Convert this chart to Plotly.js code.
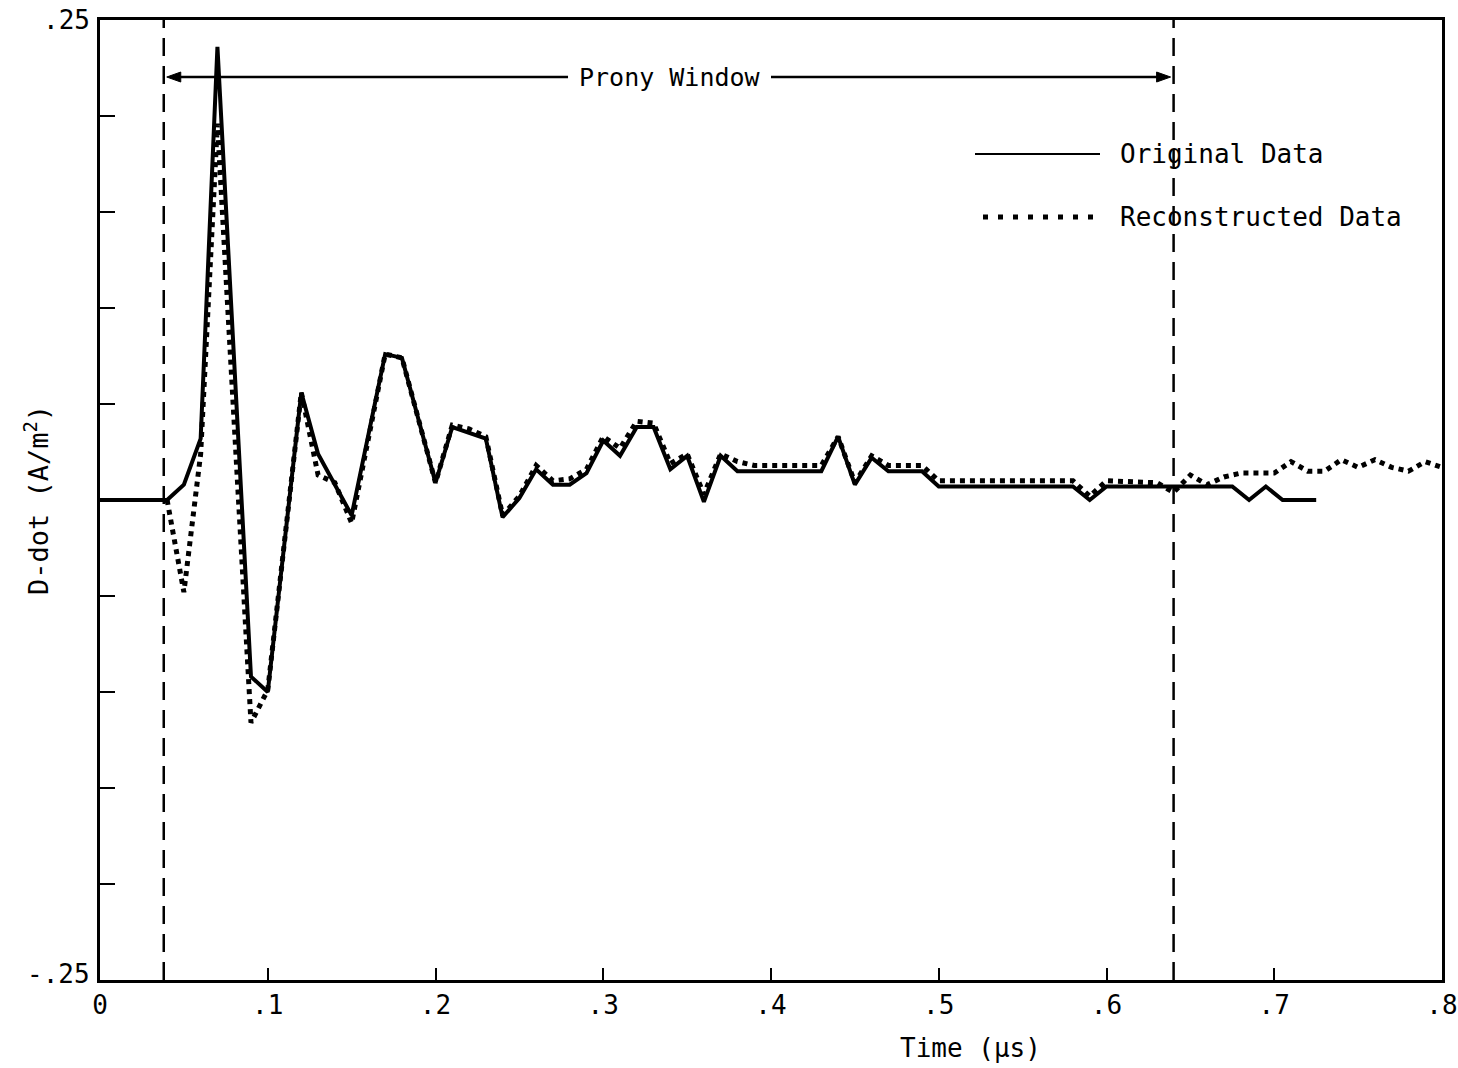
<!DOCTYPE html>
<html>
<head>
<meta charset="utf-8">
<script src="https://cdn.plot.ly/plotly-3.0.1.min.js"></script>
<style>html,body{margin:0;padding:0;background:#fff;}#chart{width:1458px;height:1068px;}</style>
</head>
<body>
<div id="chart"></div>
<script>
// Original data (solid)
const tOriginal = [0, 0.04, 0.05, 0.06, 0.07, 0.09, 0.10, 0.12, 0.13, 0.15, 0.17, 0.18, 0.20, 0.21, 0.23, 0.24, 0.25, 0.26, 0.27, 0.28, 0.29, 0.30, 0.31, 0.32, 0.33, 0.34, 0.35, 0.36, 0.37, 0.38, 0.43, 0.44, 0.45, 0.46, 0.47, 0.49, 0.50, 0.58, 0.59, 0.60, 0.675, 0.685, 0.695, 0.705, 0.725];
const dOriginal = [0, 0, 0.008, 0.032, 0.236, -0.092, -0.100, 0.056, 0.024, -0.008, 0.076, 0.074, 0.009, 0.038, 0.032, -0.009, 0.001, 0.016, 0.008, 0.008, 0.014, 0.031, 0.023, 0.038, 0.038, 0.016, 0.023, -0.001, 0.023, 0.015, 0.015, 0.033, 0.008, 0.022, 0.015, 0.015, 0.007, 0.007, 0.000, 0.007, 0.007, 0.000, 0.007, 0.000, 0.000];

// Reconstructed data (dotted)
const tReconstructed = [0.04, 0.05, 0.06, 0.07, 0.09, 0.10, 0.12, 0.13, 0.14, 0.15, 0.17, 0.18, 0.20, 0.21, 0.22, 0.23, 0.24, 0.25, 0.26, 0.27, 0.28, 0.29, 0.30, 0.31, 0.32, 0.33, 0.34, 0.35, 0.36, 0.37, 0.38, 0.39, 0.43, 0.44, 0.45, 0.46, 0.47, 0.49, 0.50, 0.58, 0.59, 0.60, 0.63, 0.64, 0.65, 0.66, 0.67, 0.68, 0.69, 0.70, 0.71, 0.72, 0.73, 0.74, 0.75, 0.76, 0.77, 0.78, 0.79, 0.80];
const dReconstructed = [0, -0.048, 0.024, 0.196, -0.116, -0.099, 0.056, 0.013, 0.009, -0.012, 0.076, 0.074, 0.009, 0.039, 0.037, 0.033, -0.008, 0.002, 0.018, 0.010, 0.011, 0.016, 0.033, 0.027, 0.041, 0.040, 0.019, 0.024, 0.003, 0.024, 0.020, 0.018, 0.018, 0.033, 0.009, 0.023, 0.018, 0.018, 0.010, 0.010, 0.002, 0.010, 0.009, 0.004, 0.013, 0.008, 0.012, 0.014, 0.014, 0.014, 0.020, 0.015, 0.015, 0.021, 0.017, 0.021, 0.017, 0.015, 0.020, 0.017];

// Ticks
const xTickVals = [0, 0.1, 0.2, 0.3, 0.4, 0.5, 0.6, 0.7, 0.8];
const xTickText = ['0', '.1', '.2', '.3', '.4', '.5', '.6', '.7', '.8'];
const yTickVals = [-0.25, -0.2, -0.15, -0.1, -0.05, 0, 0.05, 0.1, 0.15, 0.2, 0.25];
const yLabelVals = [-0.25, 0.25];
const yLabelText = ['-.25', '.25'];

// Prony window bounds
const pronyStart = 0.038;
const pronyEnd = 0.64;

const FONT = 'DejaVu Sans Mono, Liberation Mono, monospace';

const traces = [
  {x: tOriginal, y: dOriginal, mode: 'lines', name: 'Original Data',
   line: {color: '#000', width: 4}, showlegend: false, hoverinfo: 'skip'},
  {x: tReconstructed, y: dReconstructed, mode: 'lines', name: 'Reconstructed Data',
   line: {color: '#000', width: 5, dash: '5px,5px'}, showlegend: false, hoverinfo: 'skip'}
];

const arrowY = 0.2203;
const annotations = [
  {x: 0.3395, y: arrowY, xref: 'x', yref: 'y', text: 'Prony Window', showarrow: false,
   font: {family: FONT, size: 25}, xanchor: 'center', yanchor: 'middle'},
  {x: (1118-100)/1342, y: (980-154)/960, xref: 'paper', yref: 'paper', text: 'Original Data',
   showarrow: false, xanchor: 'left', yanchor: 'middle', font: {family: FONT, size: 26}},
  {x: (1118-100)/1342, y: (980-217)/960, xref: 'paper', yref: 'paper', text: 'Reconstructed Data',
   showarrow: false, xanchor: 'left', yanchor: 'middle', font: {family: FONT, size: 26}},
  {x: (970-100)/1342, y: (980-1048)/960, xref: 'paper', yref: 'paper', text: 'Time (μs)',
   showarrow: false, xanchor: 'center', yanchor: 'middle', font: {family: FONT, size: 26}}
];
yLabelVals.forEach((v, i) => annotations.push({
  x: 0, y: v, xref: 'paper', yref: 'y', text: yLabelText[i], showarrow: false,
  xanchor: 'right', yanchor: 'middle', xshift: -8, yshift: v < 0 ? 6 : 0,
  font: {family: FONT, size: 26}
}));

const layout = {
  width: 1458, height: 1068,
  margin: {l: 100, r: 16, t: 20, b: 88},
  paper_bgcolor: '#fff', plot_bgcolor: '#fff',
  font: {family: FONT, size: 26, color: '#000'},
  xaxis: {range: [0, 0.8], tickvals: xTickVals, ticktext: xTickText,
    ticks: 'inside', ticklen: 12, tickwidth: 2, tickcolor: '#000',
    showline: true, linewidth: 3, linecolor: '#000', mirror: true,
    showgrid: false, zeroline: false, tickfont: {family: FONT, size: 26}},
  yaxis: {range: [-0.25, 0.25], tickvals: yTickVals, showticklabels: false,
    ticks: 'inside', ticklen: 15, tickwidth: 2, tickcolor: '#000',
    showline: true, linewidth: 3, linecolor: '#000', mirror: true,
    showgrid: false, zeroline: false,
    title: {text: 'D-dot (A/m<sup>2</sup>)', font: {family: FONT, size: 27}, standoff: 41}},
  shapes: [
    {type: 'line', xref: 'x', yref: 'paper', x0: pronyStart, x1: pronyStart, y0: 0, y1: 1,
     line: {color: '#000', width: 2.5, dash: '18px,10px'}},
    {type: 'line', xref: 'x', yref: 'paper', x0: pronyEnd, x1: pronyEnd, y0: 0, y1: 1,
     line: {color: '#000', width: 2.5, dash: '18px,10px'}},
    // Prony window arrow shafts
    {type: 'line', xref: 'x', yref: 'y', x0: pronyStart + 0.004, x1: 0.279, y0: arrowY, y1: arrowY,
     line: {color: '#000', width: 2.5}},
    {type: 'line', xref: 'x', yref: 'y', x0: 0.400, x1: pronyEnd - 0.004, y0: arrowY, y1: arrowY,
     line: {color: '#000', width: 2.5}},
    // arrowheads
    {type: 'path', xref: 'x', yref: 'y', xsizemode: 'pixel', ysizemode: 'pixel',
     xanchor: pronyStart, yanchor: arrowY, path: 'M3,0 L17,-5 L17,5 Z',
     fillcolor: '#000', line: {color: '#000', width: 1}},
    {type: 'path', xref: 'x', yref: 'y', xsizemode: 'pixel', ysizemode: 'pixel',
     xanchor: pronyEnd, yanchor: arrowY, path: 'M-3,0 L-17,-5 L-17,5 Z',
     fillcolor: '#000', line: {color: '#000', width: 1}},
    // legend samples
    {type: 'line', xref: 'paper', yref: 'paper', x0: (975-100)/1342, x1: (1100-100)/1342,
     y0: (980-154)/960, y1: (980-154)/960, line: {color: '#000', width: 2}},
    {type: 'line', xref: 'paper', yref: 'paper', x0: (983-100)/1342, x1: (1098-100)/1342,
     y0: (980-217)/960, y1: (980-217)/960, line: {color: '#000', width: 5, dash: '5px,10px'}}
  ],
  annotations: annotations
};

Plotly.newPlot('chart', traces, layout, {displayModeBar: false, staticPlot: true});
</script>
</body>
</html>
